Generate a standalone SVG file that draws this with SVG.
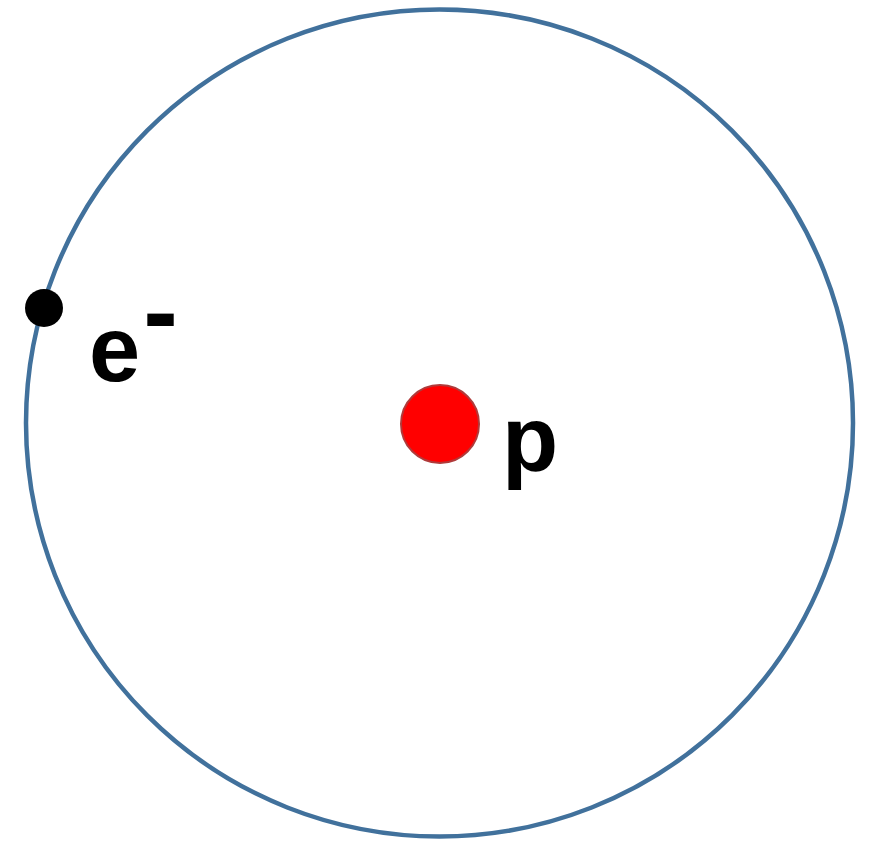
<svg xmlns="http://www.w3.org/2000/svg" width="869" height="843" viewBox="0 0 869 843">
<style>
.lbl{font-family:"Liberation Sans",Arial,sans-serif;font-weight:bold;font-size:92px;fill:#000}
</style>
<rect width="869" height="843" fill="#fff"/>
<g id="orbit"><circle cx="439.5" cy="423" r="413.5" fill="none" stroke="#41719c" stroke-width="4.5"/></g>
<g id="proton">
<circle cx="440" cy="424" r="39" fill="#ff0000" stroke="#b03a3a" stroke-width="2"/>
<text class="lbl" x="502" y="471">p</text>
</g>
<g id="electron">
<circle cx="44" cy="308" r="19" fill="#000"/>
<text class="lbl" x="89" y="381">e<tspan font-size="104" dy="-34" dx="3">-</tspan></text>
</g>
<g id="connectors"/>
</svg>
